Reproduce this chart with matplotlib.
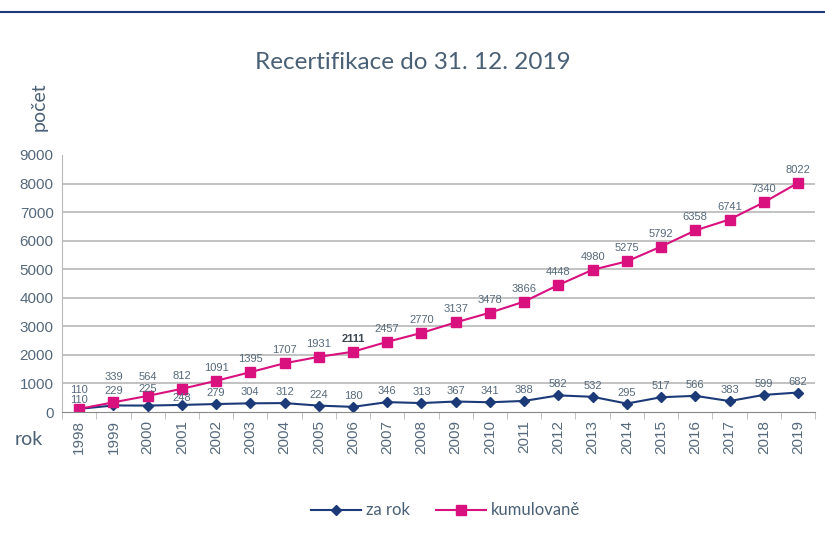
import numpy as np
import matplotlib.pyplot as plt

# data
years = list(range(1998, 2020))
za_rok = [110, 229, 225, 248, 279, 304, 312, 224, 180, 346, 313, 367, 341, 388,
          582, 532, 295, 517, 566, 383, 599, 682]
kumulovane = [110, 339, 564, 812, 1091, 1395, 1707, 1931, 2111, 2457, 2770, 3137,
              3478, 3866, 4448, 4980, 5275, 5792, 6358, 6741, 7340, 8022]

navy = '#1c3a78'
magenta = '#d9117f'
txt = '#56697c'
grid = '#b8b8b8'

plt.rcParams['font.family'] = ['Lato', 'DejaVu Sans']

fig = plt.figure(figsize=(8.25, 5.35), dpi=100)
ax = fig.add_axes([0.0752, 0.2299, 0.9128, 0.4804])

x = np.arange(len(years))
ax.plot(x, za_rok, color=navy, marker='D', markersize=5, lw=1.5, label='za rok')
ax.plot(x, kumulovane, color=magenta, marker='s', markersize=7, lw=1.5, label='kumulovaně')

# label offsets in pixels (early years are crowded)
cum_off = {1998: 19, 1999: 25, 2000: 19}
rok_off = {1998: 9, 1999: 14, 2000: 17, 2001: 7}

for i in range(len(years)):
    fw = 'bold' if years[i] == 2006 else 'normal'
    col = '#3b4650' if years[i] == 2006 else txt
    ax.annotate(str(kumulovane[i]), (x[i], kumulovane[i]), textcoords='offset pixels',
                xytext=(0, cum_off.get(years[i], 13)), ha='center', va='center',
                fontsize=8, color=col, fontweight=fw, family='Liberation Sans')
    ax.annotate(str(za_rok[i]), (x[i], za_rok[i]), textcoords='offset pixels',
                xytext=(0, rok_off.get(years[i], 11)), ha='center', va='center',
                fontsize=8, color=txt, family='Liberation Sans')

ax.set_xlim(-0.5, len(years) - 0.5)
ax.set_ylim(0, 9000)
ax.set_yticks(range(0, 9001, 1000))
ax.set_xticks(x)
ax.set_xticklabels([str(y) for y in years], rotation=90, fontsize=11, color=txt,
                   family='Liberation Sans')
ax.tick_params(axis='x', length=0, pad=6)
ax.set_xticks(np.arange(-0.5, len(years), 1), minor=True)
ax.tick_params(axis='x', which='minor', length=5, color=grid)
ax.tick_params(axis='y', length=0, labelsize=11, labelcolor=txt, pad=6)
for lab in ax.get_yticklabels():
    lab.set_family('Liberation Sans')

for v in range(1000, 9000, 1000):
    ax.axhline(v, color=grid, lw=1.2, zorder=0)
for s in ['top', 'right']:
    ax.spines[s].set_visible(False)
ax.spines['left'].set_color(grid)
ax.spines['bottom'].set_color('#888888')

fig.text(0.5, 0.883, 'Recertifikace do 31. 12. 2019', ha='center', va='center',
         fontsize=17.5, color='#4a6075')
fig.text(0.048, 0.80, 'počet', rotation=90, ha='center', va='center', fontsize=14,
         color='#4a6075')
fig.text(0.035, 0.178, 'rok', ha='center', va='center', fontsize=14, color='#4a6075')

# top rule
fig.add_artist(plt.Line2D([0, 1], [0.978, 0.978], color='#1c3a78', lw=1.5))

leg = fig.legend(loc='center', bbox_to_anchor=(0.54, 0.046), ncol=2, frameon=False,
                 fontsize=12, handlelength=3.0, columnspacing=1.6, handletextpad=0.3)
for t in leg.get_texts():
    t.set_color('#4a6075')

fig.savefig('out.png', dpi=100)
